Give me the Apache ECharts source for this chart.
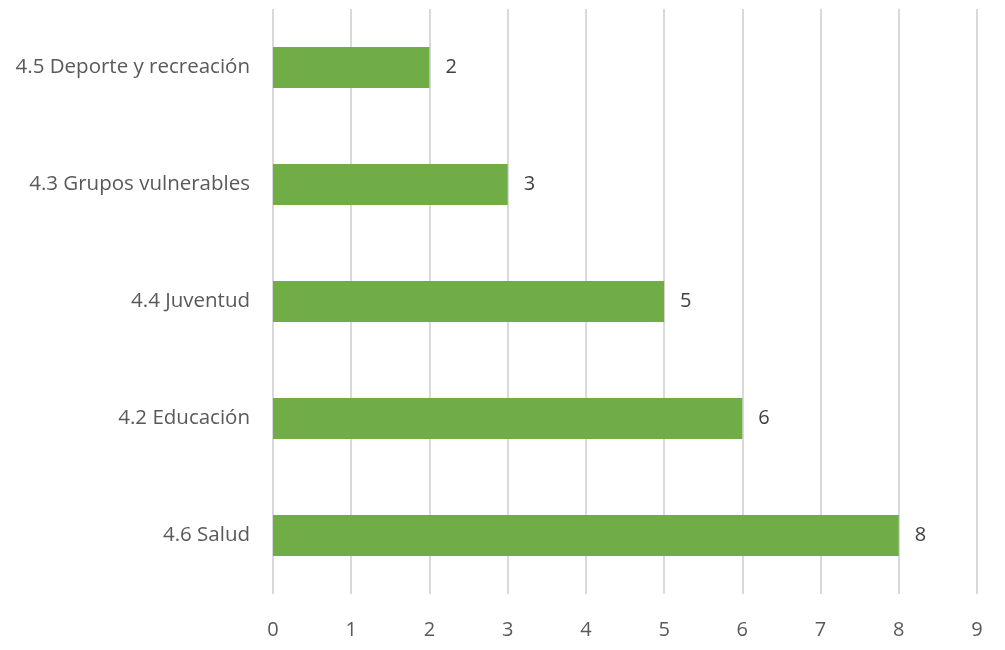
<!DOCTYPE html>
<html><head><meta charset="utf-8">
<script src="https://cdn.jsdelivr.net/npm/echarts@6/dist/echarts.min.js"></script>
<style>html,body{margin:0;padding:0;background:#fff}#c{width:1005px;height:650px}</style>
</head><body><div id="c"></div>
<script>
const categories = ["4.6 Salud", "4.2 Educación", "4.4 Juventud", "4.3 Grupos vulnerables", "4.5 Deporte y recreación"];
const values = [8, 6, 5, 3, 2];
const xTicks = [0, 1, 2, 3, 4, 5, 6, 7, 8, 9];

const font = "'Open Sans', Carlito, sans-serif";
const chart = echarts.init(document.getElementById('c'), null, {renderer: 'canvas'});
chart.setOption({
  animation: false,
  grid: {left: 273, right: 28, top: 9, bottom: 56, containLabel: false},
  xAxis: {
    type: 'value', min: xTicks[0], max: xTicks[xTicks.length - 1], interval: 1,
    axisLine: {show: false}, axisTick: {show: false},
    splitLine: {show: true, lineStyle: {color: '#d9d9d9', width: 2}},
    axisLabel: {color: '#595959', fontSize: 20, fontFamily: font, margin: 26}
  },
  yAxis: {
    type: 'category', data: categories,
    axisLine: {show: false}, axisTick: {show: false},
    axisLabel: {color: '#595959', fontSize: 20.5, fontFamily: font, margin: 23}
  },
  series: [{
    type: 'bar', data: values, barWidth: 41,
    itemStyle: {color: '#70ad47'},
    label: {show: true, position: 'right', distance: 16, color: '#404040', fontSize: 20, fontFamily: font}
  }]
});
</script></body></html>
